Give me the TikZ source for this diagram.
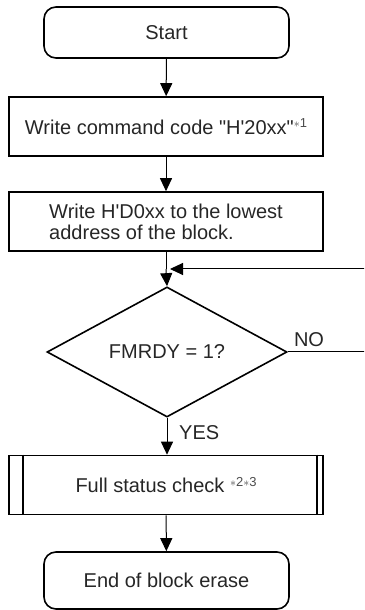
\documentclass[tikz,border=0pt]{standalone}
\usepackage{fontspec}
\setmainfont{Liberation Sans}[Ligatures=TeXOff]
\usetikzlibrary{shapes.geometric,arrows.meta,calc}
\begin{document}
\begin{tikzpicture}[x=1pt,y=1pt,
  every node/.style={font=\fontsize{20}{21}\selectfont, text=black!85},
  lw/.style={line width=1.6pt},
  term/.style={lw, draw, rounded corners=12pt, minimum width=245pt, minimum height=51pt},
  proc/.style={lw, draw, minimum width=314pt, minimum height=59pt},
  dec/.style={lw, draw, diamond, minimum width=240pt, minimum height=126pt, inner sep=0pt},
  arr/.style={line width=1pt, -{Triangle[length=13pt,width=12pt]}},
  lbl/.style={inner sep=0pt}
]
\useasboundingbox (0,0) rectangle (364,610);
\clip (0,0) rectangle (364,610);
\newcommand{\sfx}[1]{\raisebox{6.5pt}{\fontsize{13}{13}\selectfont\color{black!70}#1}}
\node[term] (start) at (166.5,577.5) {Start};
\node[proc] (w1) at (166,483.5) {Write command code \char34 H\char39 20xx\char34\sfx{$\ast$1}};
\node[proc, align=left] (w2) at (166,388.5) {Write H\char39 D0xx to the lowest\\address of the block.};
\coordinate (j) at (166,341);
\node[dec] (d) at (167,258) {FMRDY = 1?};
\node[proc] (fs) at (166,125) {Full status check \sfx{$\ast$2$\ast$3}};
\draw[lw] ([xshift=15pt]fs.north west) -- ([xshift=15pt]fs.south west);
\draw[lw] ([xshift=-7pt]fs.north east) -- ([xshift=-7pt]fs.south east);
\node[term, minimum height=57pt] (end) at (166.5,29.5) {End of block erase};
\coordinate (r1) at (380,258);
\coordinate (r2) at (380,341);
\draw[arr] (start) -- (w1);
\draw[arr] (w1) -- (w2);
\draw[line width=1pt] (w2.south -| j) -- (j);
\draw[arr] (j) -- (d.north);
\draw[line width=1pt] (d.east) -- (r1) -- (r2);
\draw[arr] (r2) -- ([xshift=4pt]j);
\draw[arr] (d.south) -- (d.south |- fs.north);
\draw[arr] (fs) -- (end);
\node[lbl, anchor=south west] (no) at ([xshift=6pt,yshift=5pt]d.east) {NO};
\node[lbl, anchor=north west] (yes) at ([xshift=12pt,yshift=-7pt]d.south) {YES};
\end{tikzpicture}
\end{document}
